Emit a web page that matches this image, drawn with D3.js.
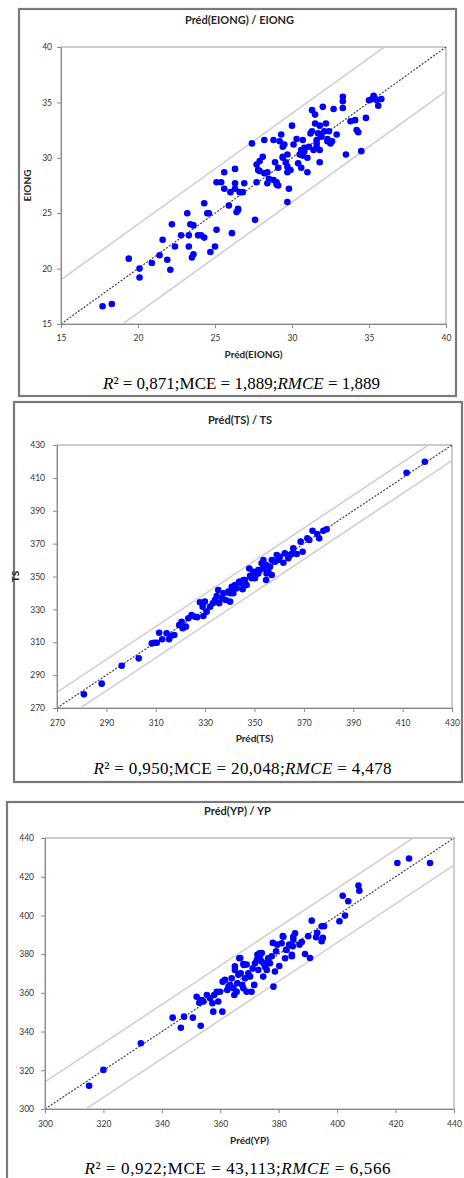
<!DOCTYPE html>
<html>
<head>
<meta charset="utf-8">
<script src="https://cdn.jsdelivr.net/npm/d3@7"></script>
<style>
  body { margin: 0; background: #fff; }
  svg { display: block; }
</style>
</head>
<body>
<div id="chart"></div>
<script>
var width = 464;
var height = 1178;

// Préd(EIONG) / EIONG   [prédit, observé]
var eiongPoints = [
  [17.7,16.6],[18.3,16.8],[19.4,20.9],[20.1,20.0],[20.1,19.2],[20.9,20.5],[21.4,21.2],[21.6,22.6],
  [21.9,20.8],[22.1,19.9],[22.2,24.0],[22.4,22.0],[22.8,23.0],[23.2,25.0],[23.3,23.0],[23.3,22.0],
  [23.4,24.0],[23.5,21.0],[23.6,23.9],[23.6,21.3],[23.9,23.0],[24.1,23.0],[24.3,25.9],[24.3,22.8],
  [24.5,25.0],[24.6,25.0],[24.7,21.5],[25.0,22.0],[25.1,23.5],[25.1,27.8],[25.4,27.8],[25.6,27.2],
  [25.6,28.7],[25.9,25.7],[26.0,26.9],[26.1,23.2],[26.3,27.2],[26.3,29.0],[26.3,27.7],[26.4,25.1],
  [26.5,25.3],[26.5,25.4],[26.6,26.9],[26.8,26.9],[26.9,27.7],[27.4,31.3],[27.6,24.4],[27.7,27.8],
  [27.7,29.4],[27.8,28.9],[27.9,29.7],[27.9,28.8],[28.1,30.1],[28.2,31.6],[28.2,28.6],[28.4,28.7],
  [28.4,27.7],[28.5,28.1],[28.8,31.6],[28.8,28.0],[28.9,29.6],[29.0,27.8],[29.0,27.6],[29.1,27.5],
  [29.1,29.1],[29.2,31.5],[29.3,32.1],[29.4,31.0],[29.4,30.1],[29.4,30.0],[29.5,31.2],[29.6,29.6],
  [29.7,29.2],[29.7,28.7],[29.7,26.0],[29.7,30.3],[29.8,27.2],[29.9,28.9],[30.0,32.9],[30.1,31.2],
  [30.3,31.7],[30.4,29.5],[30.5,30.3],[30.6,30.7],[30.6,29.1],[30.7,31.6],[30.7,30.2],[30.8,30.6],
  [30.8,30.9],[31.0,28.7],[31.0,30.0],[31.1,31.0],[31.2,32.2],[31.3,32.4],[31.3,34.3],[31.4,30.7],
  [31.5,33.9],[31.5,33.1],[31.6,31.6],[31.6,31.0],[31.6,31.3],[31.7,32.2],[31.8,29.6],[31.8,30.7],
  [31.8,32.9],[31.9,31.9],[31.9,32.0],[32.0,34.6],[32.1,32.4],[32.2,33.1],[32.3,31.7],[32.3,31.5],
  [32.4,32.4],[32.5,31.3],[32.6,31.5],[32.7,34.4],[32.9,32.1],[33.3,35.5],[33.3,35.1],[33.3,34.5],
  [33.5,30.3],[33.8,33.3],[34.1,33.4],[34.2,32.5],[34.3,32.3],[34.5,30.6],[34.8,33.6],[35.0,35.2],
  [35.2,35.3],[35.3,35.6],[35.5,35.2],[35.6,34.7],[35.8,35.3]
];

// Préd(TS) / TS
var tsPoints = [
  [280.9,278.3],[288.1,284.8],[296.2,295.7],[303.1,300.2],[308.4,309.3],[309.4,309.7],[310.4,309.7],
  [311.4,315.8],[312.6,311.8],[314.4,315.4],[315.4,311.8],[316.2,314.0],[317.5,314.4],[319.5,320.5],
  [320.5,322.5],[320.9,318.5],[322.2,319.5],[323.2,324.6],[324.5,326.6],[325.9,325.5],[326.8,325.2],
  [327.9,334.3],[329.0,331.6],[329.3,326.0],[329.9,334.7],[330.6,328.6],[332.0,331.6],[333.1,333.7],
  [334.0,335.7],[334.7,338.1],[335.3,341.8],[335.7,333.7],[336.7,336.7],[337.4,339.8],[338.3,335.7],
  [339.4,340.8],[340.1,334.7],[340.8,343.8],[341.4,339.8],[342.1,344.8],[342.8,342.8],[343.8,346.8],
  [344.8,345.8],[345.2,342.2],[346.1,347.9],[346.8,344.8],[347.9,354.9],[348.8,348.9],[350.9,351.9],
  [351.5,353.9],[351.5,351.9],[352.2,353.9],[352.9,358.0],[353.6,355.0],[353.6,360.0],[354.7,357.0],
  [354.7,347.9],[354.9,351.9],[355.6,352.9],[356.3,356.0],[357.0,360.0],[357.0,350.9],[358.3,359.0],
  [359.0,363.1],[359.6,360.0],[360.3,362.0],[361.7,358.4],[362.3,364.1],[363.7,361.1],[364.4,363.1],
  [365.0,363.7],[365.7,367.1],[367.1,363.7],[368.7,371.2],[369.5,365.1],[371.4,373.2],[372.2,372.2],
  [373.5,377.8],[375.4,375.8],[376.2,373.2],[377.9,377.8],[379.2,378.7],[411.6,413.1],[419.0,419.8],
  [344.1,346.8],[345.5,347.9],[340.1,339.8],[341.4,342.8],[348.2,350.5],[350.2,349.0],[349.5,352.8]
];

// Préd(YP) / YP
var ypPoints = [
  [315.1,312.0],[320.0,320.2],[332.8,334.0],[343.7,347.2],[346.5,342.0],[347.6,347.7],[350.6,347.2],
  [351.9,358.0],[353.3,343.0],[352.8,354.9],[353.6,356.3],[354.2,355.5],[355.4,358.9],[356.5,357.2],
  [357.3,354.6],[357.6,350.3],[357.9,358.9],[358.8,360.6],[359.3,355.5],[359.9,360.6],[360.7,350.3],
  [360.8,365.8],[361.6,366.7],[362.4,361.5],[362.8,363.2],[363.3,364.1],[363.9,367.5],[364.5,362.4],
  [364.8,358.9],[365.0,371.8],[365.6,360.6],[365.8,365.0],[366.2,369.3],[366.5,377.9],[367.0,370.1],
  [367.5,364.1],[367.9,362.4],[368.1,374.4],[368.5,367.5],[369.0,360.6],[369.6,370.1],[370.2,368.4],
  [370.7,360.6],[371.1,372.7],[371.6,364.1],[371.9,375.3],[372.5,377.0],[373.0,371.8],[373.4,380.5],
  [374.2,376.1],[374.7,368.4],[375.3,373.5],[375.9,371.8],[376.4,377.9],[377.0,375.3],[378.2,363.2],
  [378.7,371.0],[380.2,373.9],[381.0,385.6],[381.6,389.0],[382.2,377.9],[382.7,382.2],[384.5,379.6],
  [385.0,389.0],[385.6,390.8],[365.0,373.7],[366.8,378.0],[367.9,374.9],[369.0,374.6],[372.7,379.7],
  [373.6,378.0],[374.2,380.6],[375.7,374.6],[376.4,376.3],[377.6,378.9],[378.0,385.8],[379.1,381.5],
  [379.5,384.9],[381.4,389.3],[382.5,382.3],[383.6,384.9],[384.5,378.9],[384.8,384.1],[385.0,387.5],
  [387.1,384.9],[387.9,386.3],[389.0,380.1],[390.1,389.3],[390.7,378.0],[391.3,397.3],[392.8,388.7],
  [393.2,391.0],[394.7,394.4],[394.7,386.7],[395.1,388.4],[395.5,394.4],[400.8,397.0],[401.9,410.2],
  [402.7,399.9],[403.8,407.3],[407.3,415.4],[407.6,412.8],[420.6,427.1],[424.6,429.4],[431.8,427.1]
];

var eiongTicks = [15, 20, 25, 30, 35, 40];
var tsTicks = [270, 290, 310, 330, 350, 370, 390, 410, 430];
var ypTicks = [300, 320, 340, 360, 380, 400, 420, 440];

// demi-largeur de la bande grise (même unité que les axes)
var eiongBand = 4;
var tsBand = 9.5;
var ypBand = 14;

var titles = ["Préd(EIONG) / EIONG", "Préd(TS) / TS", "Préd(YP) / YP"];
var xLabels = ["Préd(EIONG)", "Préd(TS)", "Préd(YP)"];
var yLabels = ["EIONG", "TS", ""];
var r2Values = ["0,871", "0,950", "0,922"];
var mceValues = ["1,889", "20,048", "43,113"];
var rmceValues = ["1,889", "4,478", "6,566"];

var svg = d3.select('#chart').append('svg')
  .attr('width', width).attr('height', height);

var panels = [
  { pts: eiongPoints, ticks: eiongTicks, band: eiongBand,
    frame: [19, 9, 437, 387], plot: [61, 47, 446, 324],
    titleY: 24, tickY: 341, xlabY: 358, ylabX: 31, formY: 389, formW: 277, tickPad: 9 },
  { pts: tsPoints, ticks: tsTicks, band: tsBand,
    frame: [14, 402, 448, 380], plot: [57, 445, 452, 708],
    titleY: 424, tickY: 726, xlabY: 742, ylabX: 19, formY: 774, formW: 298, tickPad: 12 },
  { pts: ypPoints, ticks: ypTicks, band: ypBand,
    frame: [7, 802, 470, 400], plot: [45, 838, 454, 1109],
    titleY: 815, tickY: 1127, xlabY: 1144, ylabX: 14, formY: 1174, formW: 306, tickPad: 11 }
];

panels.forEach(function(p, i) {
  var l = p.plot[0], t = p.plot[1], r = p.plot[2], b = p.plot[3];
  var lo = p.ticks[0], hi = p.ticks[p.ticks.length - 1];
  var x = d3.scaleLinear().domain([lo, hi]).range([l, r]);
  var y = d3.scaleLinear().domain([lo, hi]).range([b, t]);
  var g = svg.append('g');

  // cadre extérieur
  g.append('rect')
    .attr('x', p.frame[0]).attr('y', p.frame[1])
    .attr('width', p.frame[2]).attr('height', p.frame[3])
    .attr('fill', '#fff').attr('stroke', '#7a7a7a').attr('stroke-width', 2.2);

  g.append('text')
    .attr('x', (p.frame[0] + Math.min(p.frame[0] + p.frame[2], width)) / 2 + 2)
    .attr('y', p.titleY)
    .attr('text-anchor', 'middle')
    .style('font', 'bold 11px Lato, "Open Sans", sans-serif')
    .style('fill', '#262626')
    .text(titles[i]);

  g.append('rect')
    .attr('x', l).attr('y', t).attr('width', r - l).attr('height', b - t)
    .attr('fill', 'none').attr('stroke', '#9a9a9a').attr('stroke-width', 1);

  var clipId = 'clip' + i;
  svg.append('clipPath').attr('id', clipId)
    .append('rect').attr('x', l).attr('y', t).attr('width', r - l).attr('height', b - t);

  var line = d3.line().x(function(d) { return x(d[0]); }).y(function(d) { return y(d[1]); });
  var inner = g.append('g').attr('clip-path', 'url(#' + clipId + ')');

  [p.band, -p.band].forEach(function(off) {
    inner.append('path')
      .datum([[lo - 20, lo - 20 + off], [hi + 20, hi + 20 + off]])
      .attr('d', line)
      .attr('fill', 'none').attr('stroke', '#cfcfcf').attr('stroke-width', 1.6);
  });

  inner.append('path')
    .datum([[lo, lo], [hi, hi]])
    .attr('d', line)
    .attr('fill', 'none').attr('stroke', '#444').attr('stroke-width', 1.2)
    .attr('stroke-dasharray', '2,1.5');

  var xAxis = g.append('g').attr('transform', 'translate(0,' + b + ')')
    .call(d3.axisBottom(x).tickValues(p.ticks).tickSize(4).tickFormat(d3.format('d')));
  var yAxis = g.append('g').attr('transform', 'translate(' + l + ',0)')
    .call(d3.axisLeft(y).tickValues(p.ticks).tickSize(4).tickPadding(p.tickPad - 4).tickFormat(d3.format('d')));
  [xAxis, yAxis].forEach(function(a) {
    a.select('.domain').attr('stroke', '#8a8a8a');
    a.selectAll('.tick line').attr('stroke', '#8a8a8a');
    a.selectAll('.tick text').style('font', '8.5px Lato, "Open Sans", sans-serif').style('fill', '#333');
  });
  xAxis.selectAll('.tick text').attr('y', null).attr('dy', null)
    .attr('transform', 'translate(0,' + (p.tickY - b) + ')');

  g.selectAll('circle.pt').data(p.pts).enter().append('circle')
    .attr('class', 'pt')
    .attr('cx', function(d) { return x(d[0]); })
    .attr('cy', function(d) { return y(d[1]); })
    .attr('r', 3.3)
    .attr('fill', '#0000ff');

  g.append('text')
    .attr('x', (l + r) / 2).attr('y', p.xlabY)
    .attr('text-anchor', 'middle')
    .style('font', 'bold 10px Lato, "Open Sans", sans-serif')
    .style('fill', '#262626')
    .text(xLabels[i]);

  if (yLabels[i]) {
    g.append('text')
      .attr('transform', 'translate(' + p.ylabX + ',' + ((t + b) / 2) + ') rotate(-90)')
      .attr('text-anchor', 'middle')
      .style('font', 'bold 10px Lato, "Open Sans", sans-serif')
      .style('fill', '#262626')
      .text(yLabels[i]);
  }

  var f = g.append('text')
    .attr('x', (l + r) / 2 - 12).attr('y', p.formY)
    .attr('text-anchor', 'middle')
    .attr('textLength', p.formW).attr('lengthAdjust', 'spacing')
    .style('font', '17px "Liberation Serif", "Times New Roman", serif')
    .style('fill', '#000');
  f.append('tspan').style('font-style', 'italic').text('R');
  f.append('tspan').text('² = ' + r2Values[i] + ';MCE = ' + mceValues[i] + ';');
  f.append('tspan').style('font-style', 'italic').text('RMCE');
  f.append('tspan').text(' = ' + rmceValues[i]);
});
</script>
</body>
</html>
